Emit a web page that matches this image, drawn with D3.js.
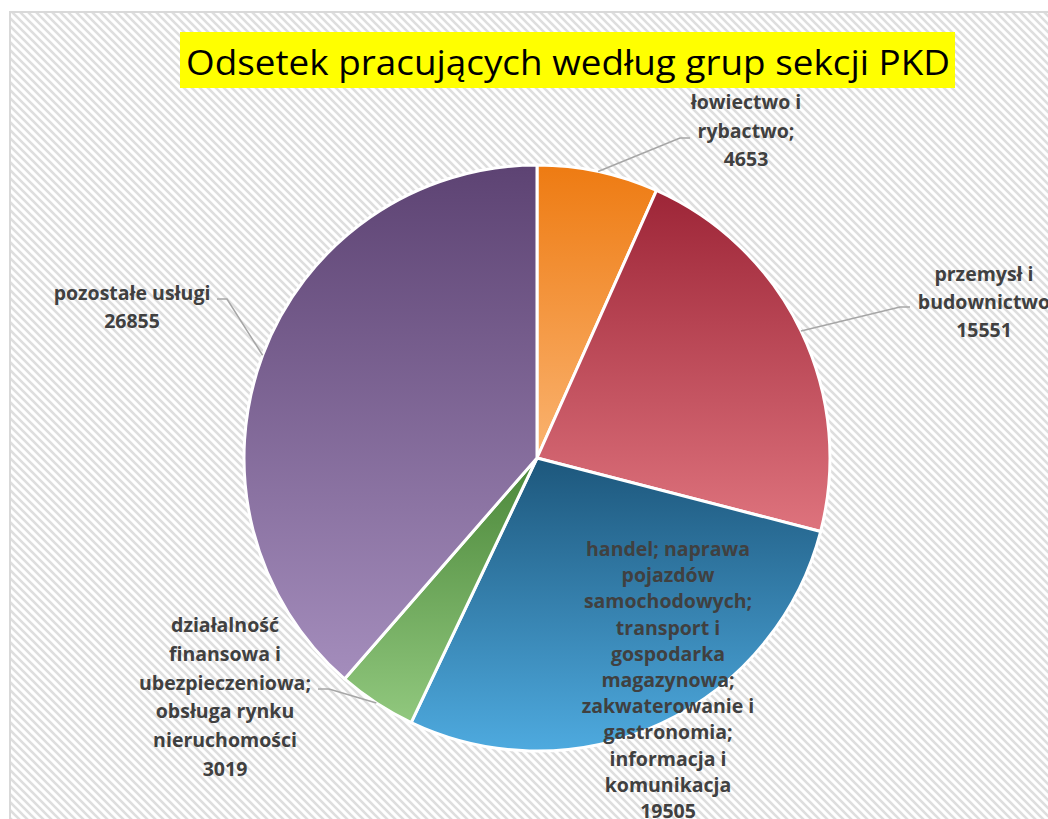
<!DOCTYPE html>
<html>
<head>
<meta charset="utf-8">
<script src="https://cdn.jsdelivr.net/npm/d3@7"></script>
<style>
  body { margin: 0; background: #fff; }
  svg { display: block; }
  .lbl { font-family: "Open Sans", sans-serif; font-weight: bold; font-size: 19.5px; fill: #404040; }
</style>
</head>
<body>
<div id="chart"></div>
<script>
// data
var categories = ["rolnictwo", "przemysł", "handel", "finanse", "pozostałe"];
var values = [4653, 15551, 19505, 3019, 26855];
var labelLines = [
  ["łowiectwo i", "rybactwo;", "4653"],
  ["przemysł i", "budownictwo", "15551"],
  ["handel; naprawa", "pojazdów", "samochodowych;", "transport i", "gospodarka", "magazynowa;", "zakwaterowanie i", "gastronomia;", "informacja i", "komunikacja", "19505"],
  ["działalność", "finansowa i", "ubezpieczeniowa;", "obsługa rynku", "nieruchomości", "3019"],
  ["pozostałe usługi", "26855"]
];
var topColors = ["#ee7b12", "#9d2537", "#1d577c", "#4b8739", "#5d4373"];
var bottomColors = ["#fab370", "#de737d", "#4eaadf", "#91c87e", "#a48dbc"];

var svgWidth = 1048;
var svgHeight = 819;
var cx = 537, cy = 458, radius = 293;

// label placement: centre x, first baseline, line height, leader elbow + stub end
var labelPos = [
  { x: 746, y: 109, lh: 28.5, elbow: [680, 138], stub: [690, 138] },
  { x: 984, y: 281, lh: 28,   elbow: [900, 307], stub: [910, 307] },
  { x: 668, y: 556, lh: 26.2, elbow: null, stub: null },
  { x: 225, y: 632, lh: 28.8, elbow: [329, 689], stub: [318, 689] },
  { x: 132, y: 300, lh: 27.5, elbow: [227, 299], stub: [217, 299] }
];

var svg = d3.select("#chart")
  .append("svg")
  .attr("width", svgWidth)
  .attr("height", svgHeight);

var defs = svg.append("defs");

// diagonal hatch background
var pat = defs.append("pattern")
  .attr("id", "hatch")
  .attr("patternUnits", "userSpaceOnUse")
  .attr("width", 8)
  .attr("height", 8);
pat.append("rect").attr("width", 8).attr("height", 8).attr("fill", "#ffffff");
pat.append("path")
  .attr("d", "M-2,-2L10,10M-2,6L2,10M6,-2L10,2")
  .attr("stroke", "#dedede")
  .attr("stroke-width", 2.6);

values.forEach(function(v, i) {
  var g = defs.append("linearGradient")
    .attr("id", "grad" + i)
    .attr("x1", 0).attr("y1", 0).attr("x2", 0).attr("y2", 1);
  g.append("stop").attr("offset", "0%").attr("stop-color", topColors[i]);
  g.append("stop").attr("offset", "100%").attr("stop-color", bottomColors[i]);
});

svg.append("rect")
  .attr("x", 10).attr("y", 12)
  .attr("width", 1200).attr("height", 900)
  .attr("fill", "url(#hatch)")
  .attr("stroke", "#d9d9d9")
  .attr("stroke-width", 2);

// title
svg.append("rect")
  .attr("x", 180).attr("y", 32)
  .attr("width", 775).attr("height", 56)
  .attr("fill", "#ffff00");
svg.append("text")
  .attr("x", 186).attr("y", 75)
  .attr("font-family", "'Open Sans', sans-serif")
  .attr("font-size", 34)
  .attr("fill", "#000")
  .attr("textLength", 764)
  .attr("lengthAdjust", "spacingAndGlyphs")
  .text("Odsetek pracujących według grup sekcji PKD");

// pie
var pie = d3.pie().sort(null).value(function(d) { return d; });
var arcs = pie(values);
var arc = d3.arc().innerRadius(0).outerRadius(radius);

var pieGroup = svg.append("g")
  .attr("transform", `translate(${cx}, ${cy})`);

pieGroup.selectAll("path")
  .data(arcs)
  .enter()
  .append("path")
  .attr("d", arc)
  .attr("fill", function(d, i) { return "url(#grad" + i + ")"; })
  .attr("stroke", "#ffffff")
  .attr("stroke-width", 3)
  .attr("stroke-linejoin", "round");

// leader lines
arcs.forEach(function(d, i) {
  var p = labelPos[i];
  if (!p.elbow) return;
  var mid = (d.startAngle + d.endAngle) / 2;
  var ex = cx + radius * Math.sin(mid);
  var ey = cy - radius * Math.cos(mid);
  svg.append("polyline")
    .attr("points", [[ex, ey], p.elbow, p.stub].map(function(q) { return q.join(","); }).join(" "))
    .attr("fill", "none")
    .attr("stroke", "#a6a6a6")
    .attr("stroke-width", 1.5);
});

// labels
labelLines.forEach(function(lines, i) {
  var p = labelPos[i];
  var t = svg.append("text")
    .attr("class", "lbl")
    .attr("text-anchor", "middle");
  lines.forEach(function(line, j) {
    t.append("tspan")
      .attr("x", p.x)
      .attr("y", p.y + j * p.lh)
      .text(line);
  });
});
</script>
</body>
</html>
